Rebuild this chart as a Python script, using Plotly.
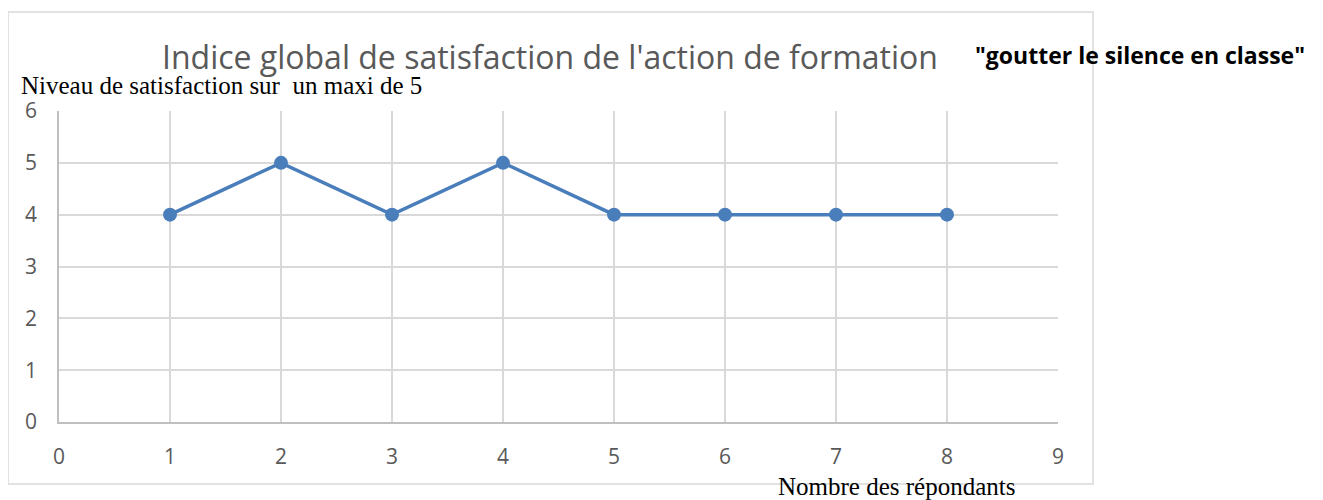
import plotly.graph_objects as go

respondants = [1, 2, 3, 4, 5, 6, 7, 8]
satisfaction = [4, 5, 4, 5, 4, 4, 4, 4]
x_ticks = [0, 1, 2, 3, 4, 5, 6, 7, 8, 9]
y_ticks = [0, 1, 2, 3, 4, 5, 6]

OFF = 8  # default body margin of the page
W, H = 1323 - OFF, 500 - OFF
L, R, T, B = 59 - OFF, 1058 - OFF, 111 - OFF, 422 - OFF

def px(x):
    return (x - OFF - L) / (R - L)

def py(y):
    return (B - (y - OFF)) / (B - T)

fig = go.Figure()
fig.add_trace(go.Scatter(
    x=respondants, y=satisfaction, mode="lines+markers",
    line=dict(color="#4a7ebb", width=3.5),
    marker=dict(color="#4a7ebb", size=14),
    showlegend=False, cliponaxis=False,
))

fig.update_layout(
    width=W, height=H,
    margin=dict(l=L, r=W - R, t=T, b=H - B),
    paper_bgcolor="white", plot_bgcolor="white",
    font=dict(family="Open Sans", color="#595959"),
    xaxis=dict(range=[0, 9], tickvals=x_ticks, showgrid=True, gridcolor="#d9d9d9", gridwidth=1.5,
               showline=True, linecolor="#bfbfbf", linewidth=1.5, zeroline=False,
               tickfont=dict(size=21, color="#595959"), ticks="", ticklabelstandoff=15),
    yaxis=dict(range=[0, 6], tickvals=y_ticks, showgrid=True, gridcolor="#d9d9d9", gridwidth=1.5,
               showline=True, linecolor="#bfbfbf", linewidth=1.5, zeroline=False,
               tickfont=dict(size=21, color="#595959"), ticks="", ticklabelstandoff=16),
    shapes=[dict(type="rect", xref="paper", yref="paper",
                 x0=px(8), x1=px(1093), y0=py(484), y1=py(12),
                 line=dict(color="#d9d9d9", width=1.5), layer="below")],
    annotations=[
        dict(text="Indice global de satisfaction de l'action de formation", xref="paper", yref="paper",
             x=px(550), y=py(57), xanchor="center", yanchor="middle", showarrow=False,
             font=dict(family="Open Sans", size=32, color="#595959")),
        dict(text="<b>\"goutter le silence en classe\"</b>", xref="paper", yref="paper",
             x=px(1140), y=py(55), xanchor="center", yanchor="middle", showarrow=False,
             font=dict(family="Open Sans", size=23, color="black")),
        dict(text="Niveau de satisfaction sur  un maxi de 5", xref="paper", yref="paper",
             x=px(19), y=py(86), xanchor="left", yanchor="middle", showarrow=False,
             font=dict(family="Liberation Serif", size=25, color="black")),
        dict(text="Nombre des répondants", xref="paper", yref="paper",
             x=px(896), y=py(486), xanchor="center", yanchor="middle", showarrow=False,
             font=dict(family="Liberation Serif", size=25, color="black")),
    ],
)

fig.write_html("out.html")
